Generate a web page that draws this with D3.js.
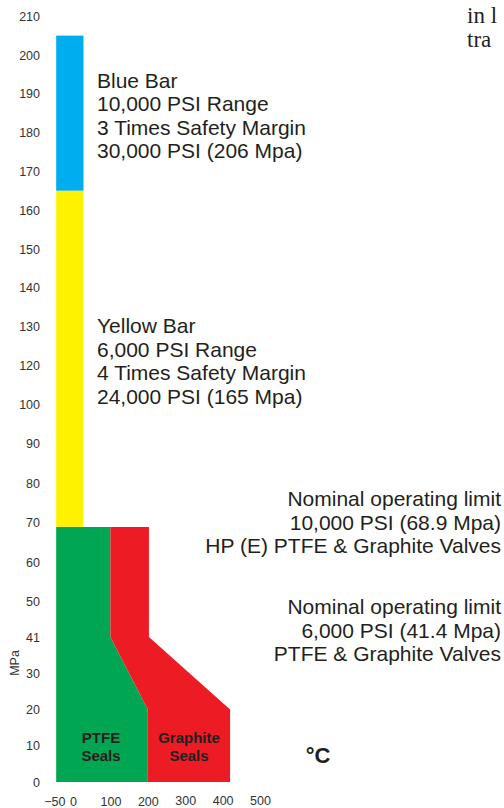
<!DOCTYPE html>
<html lang="en">
<head>
    <meta charset="UTF-8">
    <title>Valve pressure ratings</title>
    <script src="https://d3js.org/d3.v7.min.js"></script>
    <style>
        body { margin: 0; background: #fff; }
        svg { display: block; font-family: "Liberation Sans", Arial, sans-serif; }
        .tick text { fill: #333; font-size: 12.5px; }
    </style>
</head>
<body>
<svg id="chart" width="504" height="808"></svg>

<script>
    // Tick labels as printed (the axis skips 110 and shows 41 instead of 40).
    const yTicks = [0, 10, 20, 30, 41, 50, 60, 70, 80, 90, 100, 120, 130, 140, 150, 160, 170, 180, 190, 200, 210];
    const xTicks = [-50, 0, 100, 200, 300, 400, 500];

    // Safety margin bars: [temp from, temp to, MPa from, MPa to]
    const blueBar = [-45, 28, 165, 205];
    const yellowBar = [-45, 28, 68.9, 165];

    // Seal envelopes as (degC, MPa) outlines.
    const ptfeSeals = [[-45, 0], [-45, 68.9], [100, 68.9], [100, 41], [200, 20], [200, 0]];
    const graphiteSeals = [[100, 68.9], [203, 68.9], [203, 41], [420, 20], [420, 0], [200, 0], [200, 20], [100, 41]];

    const blueText = ["Blue Bar", "10,000 PSI Range", "3 Times Safety Margin", "30,000 PSI (206 Mpa)"];
    const yellowText = ["Yellow Bar", "6,000 PSI Range", "4 Times Safety Margin", "24,000 PSI (165 Mpa)"];
    const limitHP = ["Nominal operating limit", "10,000 PSI (68.9 Mpa)", "HP (E) PTFE & Graphite Valves"];
    const limitStd = ["Nominal operating limit", "6,000 PSI (41.4 Mpa)", "PTFE & Graphite Valves"];

    const svg = d3.select("#chart");

    // x: temperature
    const x = d3.scaleLinear().domain([0, 500]).range([73, 260]);

    // y: tick labels are evenly spaced, so the scale is piecewise
    const lowStep = 36.25, highStep = 38.8;
    const y = d3.scaleLinear()
        .domain([0, 30, 41, 100, 120, 210])
        .range([782, 782 - 3 * lowStep, 782 - 4 * lowStep,
                782 - 4 * lowStep - 6 * highStep, 782 - 4 * lowStep - 7 * highStep,
                782 - 4 * lowStep - 16 * highStep]);

    // bars
    [[blueBar, "#00aeef"], [yellowBar, "#fff200"]].forEach(([b, c]) => {
        svg.append("rect")
            .attr("x", x(b[0]))
            .attr("y", y(b[3]))
            .attr("width", x(b[1]) - x(b[0]))
            .attr("height", y(b[2]) - y(b[3]))
            .attr("fill", c);
    });

    const line = d3.line().x(d => x(d[0])).y(d => y(d[1]));
    svg.append("path").attr("d", line(ptfeSeals) + "Z").attr("fill", "#00a651");
    svg.append("path").attr("d", line(graphiteSeals) + "Z").attr("fill", "#ed1c24");

    // axes, labels only
    const yAxis = svg.append("g")
        .attr("transform", "translate(40,0)")
        .call(d3.axisLeft(y).tickValues(yTicks).tickSize(0).tickPadding(0));
    yAxis.select(".domain").remove();

    const xAxis = svg.append("g")
        .attr("transform", "translate(0,797.5)")
        .call(d3.axisBottom(x).tickValues(xTicks).tickSize(0).tickPadding(0).tickFormat(d3.format("d")));
    xAxis.select(".domain").remove();
    xAxis.selectAll(".tick text").attr("dy", d => d >= 300 ? "0.58em" : "0.71em");

    svg.append("text")
        .attr("transform", "translate(19,663) rotate(-90)")
        .attr("text-anchor", "middle")
        .attr("font-size", 12.5)
        .attr("fill", "#333")
        .text("MPa");

    svg.append("text")
        .attr("x", 318).attr("y", 763)
        .attr("text-anchor", "middle")
        .attr("font-size", 22)
        .attr("font-weight", "bold")
        .attr("fill", "#231f20")
        .text("°C");

    // text blocks
    function block(lines, px, py, anchor, step) {
        svg.append("g").selectAll("text")
            .data(lines)
            .join("text")
            .attr("x", px)
            .attr("y", (d, i) => py + i * step)
            .attr("text-anchor", anchor)
            .attr("font-size", 21)
            .attr("fill", "#231f20")
            .text(d => d);
    }
    block(blueText, 97, 88, "start", 23.3);
    block(yellowText, 97, 333, "start", 23.6);
    block(limitHP, 501, 506, "end", 23.5);
    block(limitStd, 501, 614, "end", 23.5);

    // seal names
    [[["PTFE", "Seals"], 101], [["Graphite", "Seals"], 189]].forEach(([words, cx]) => {
        svg.append("g").selectAll("text")
            .data(words)
            .join("text")
            .attr("x", cx)
            .attr("y", (d, i) => 743 + i * 18)
            .attr("text-anchor", "middle")
            .attr("font-size", 15)
            .attr("font-weight", "bold")
            .attr("fill", "#231f20")
            .text(d => d);
    });

    // fragment of the neighbouring page text, cut by the edge
    svg.append("g").selectAll("text")
        .data(["in l", "tra"])
        .join("text")
        .attr("x", 467)
        .attr("y", (d, i) => 23 + i * 24)
        .attr("font-family", "Liberation Serif, Times New Roman, serif")
        .attr("font-size", 23)
        .attr("fill", "#231f20")
        .text(d => d);
</script>
</body>
</html>
